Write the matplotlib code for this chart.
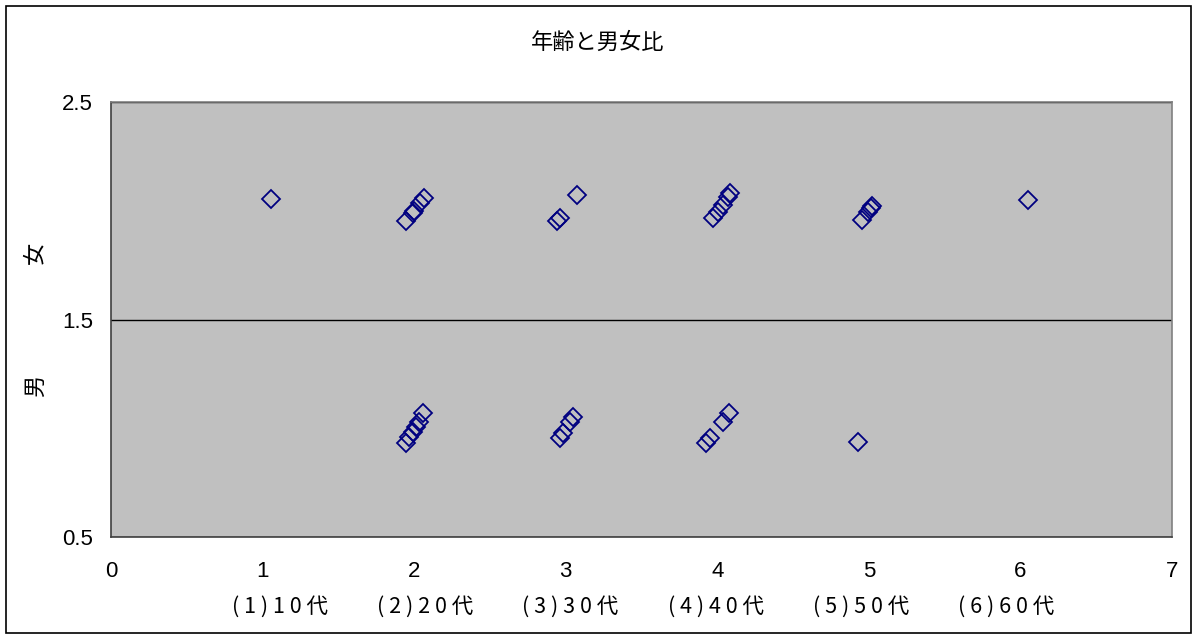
import matplotlib
matplotlib.use("Agg")
import matplotlib.pyplot as plt
from matplotlib.patches import Rectangle

plt.rcParams["font.family"] = ["Liberation Sans", "Noto Sans CJK JP", "DejaVu Sans"]
CJK = ["Noto Sans CJK JP", "DejaVu Sans"]

title = "年齢と男女比"
age_labels = ["(1)10代", "(2)20代", "(3)30代", "(4)40代", "(5)50代", "(6)60代"]
sex_labels = ["男", "女"]

# 女 (upper band)
female_x = [1.055, 1.946, 1.99, 2.0, 2.04, 2.065,
            2.944, 2.962, 3.075,
            3.973, 4.006, 4.039, 4.072, 4.083,
            4.958, 4.996, 5.011, 5.024,
            6.049]
female_y = [2.054, 1.953, 1.99, 2.0, 2.035, 2.059,
            1.954, 1.965, 2.072,
            1.965, 1.996, 2.027, 2.065, 2.081,
            1.957, 1.996, 2.011, 2.021,
            2.049]

# 男 (lower band)
male_x = [1.946, 1.969, 1.99, 2.012, 2.034, 2.06,
          2.962, 2.979, 3.028, 3.045,
          3.925, 3.951, 4.039, 4.079,
          4.927]
male_y = [0.934, 0.962, 0.985, 1.008, 1.031, 1.07,
          0.954, 0.98, 1.03, 1.053,
          0.934, 0.954, 1.03, 1.069,
          0.937]

W, H = 1197, 639
fig = plt.figure(figsize=(W / 100, H / 100), dpi=100)
fig.patches.append(Rectangle((6 / W, 6 / H), 1185 / W, 627 / H,
                             transform=fig.transFigure, fill=False,
                             edgecolor="black", linewidth=1.2))

ax = fig.add_axes([111 / W, 102 / H, 1061 / W, 435 / H])
ax.set_facecolor("#c0c0c0")

marker_style = dict(linestyle="none", marker="D", markersize=9.5,
                    markerfacecolor="none", markeredgecolor="#000080",
                    markeredgewidth=1.3)
ax.plot(female_x, female_y, **marker_style)
ax.plot(male_x, male_y, **marker_style)

ax.set_xlim(0, 7)
ax.set_ylim(0.5, 2.5)
ax.set_xticks(range(0, 8))
ax.set_yticks([0.5, 1.5, 2.5])
ax.set_yticklabels(["0.5", "1.5", "2.5"])
ax.tick_params(length=0, labelsize=16)
ax.tick_params(axis="x", pad=17)
ax.tick_params(axis="y", pad=13)
ax.grid(axis="y", color="black", linewidth=1)
ax.set_axisbelow(True)

for side in ["left", "bottom"]:
    ax.spines[side].set_color("#404040")
    ax.spines[side].set_linewidth(1.2)
for side in ["top", "right"]:
    ax.spines[side].set_color("#808080")
    ax.spines[side].set_linewidth(1.2)

fig.text(598 / W, 1 - 42 / H, title, ha="center", va="center",
         fontsize=16, family=CJK)

# category names, evenly spaced below the numeric tick row
for i, lab in enumerate(age_labels):
    xpix = 280 + 145.2 * i
    fig.text(xpix / W, 1 - 607 / H, " ".join(lab), ha="center", va="center",
             fontsize=15.5, family=CJK)

# axis title split into two rotated characters
for lab, ypix in zip(sex_labels, [386, 253]):
    fig.text(35 / W, 1 - ypix / H, lab, rotation=90, ha="center",
             va="center", fontsize=16, family=CJK)

fig.savefig("out.png", dpi=100)
